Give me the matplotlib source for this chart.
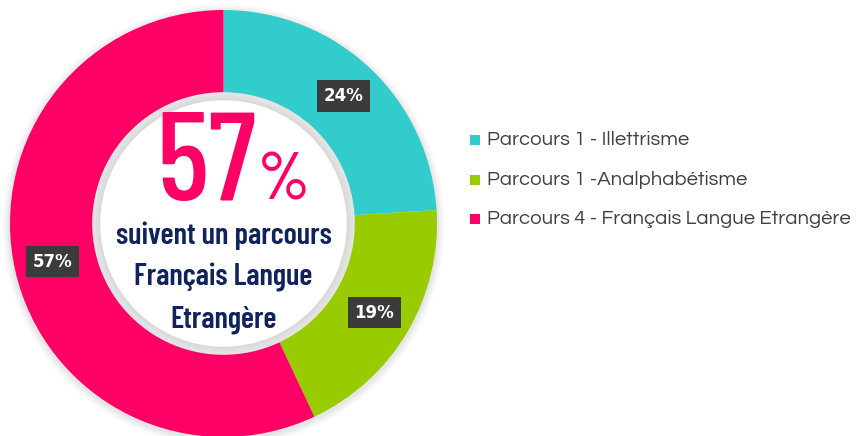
import matplotlib.pyplot as plt
from matplotlib.patches import Circle, Rectangle

# Data
categories = ["Parcours 1 - Illettrisme", "Parcours 1 -Analphabétisme",
              "Parcours 4 - Français Langue Etrangère"]
values = [24, 19, 57]
colors = ["#33CCCC", "#99CC00", "#FF0066"]
center_big = "57"
center_lines = ["suivent un parcours", "Français Langue", "Etrangère"]

W, H = 859, 436
fig = plt.figure(figsize=(W / 100, H / 100), dpi=100)
ax = fig.add_axes([0, 0, 1, 1])
ax.set_xlim(0, W)
ax.set_ylim(0, H)
ax.set_aspect("equal")
ax.axis("off")

cx, cy = 223.5, H - 223.5
R = 213.5
width = 0.385

# soft shadow around the donut
for i, a in enumerate([0.02, 0.03, 0.04, 0.05]):
    ax.add_patch(Circle((cx, cy - 2), R + 8 - 2 * i, color="#555555", alpha=a, lw=0, zorder=0))

wedges, _, autotexts = ax.pie(values, colors=colors, startangle=90, counterclock=False,
                              radius=R, center=(cx, cy), autopct="%d%%", pctdistance=0.82,
                              wedgeprops=dict(width=R * width, linewidth=0),
                              textprops=dict(color="white", fontsize=12, fontweight="bold",
                                             family="DejaVu Sans"))
ax.set_xlim(0, W)
ax.set_ylim(0, H)

for t in autotexts:
    t.set_bbox(dict(boxstyle="square,pad=0.4", facecolor="#3b3b3b", edgecolor="none"))
    t.set_zorder(5)

# inner shadow on the white hole
r_in = R * (1 - width)
for i, a in enumerate([0.03, 0.04, 0.05, 0.05]):
    ax.add_patch(Circle((cx, cy), r_in - 1 - 2 * i, color="#999999", alpha=a, lw=0, zorder=3))
ax.add_patch(Circle((cx, cy), r_in - 8, color="white", lw=0, zorder=3))

# center text
narrow = ["Barlow Condensed", "DejaVu Sans"]
ax.text(257, H - 200, center_big, color="#FF0066", fontsize=90, family=narrow,
        fontweight="medium", ha="right", va="baseline", zorder=6)
ax.text(258, H - 199, "%", color="#FF0066", fontsize=48, family=narrow,
        fontweight="medium", ha="left", va="baseline", zorder=6)
for i, line in enumerate(center_lines):
    ax.text(cx, H - (244 + 42 * i), line, color="#10235e", fontsize=22, fontweight="semibold",
            family=narrow, ha="center", va="baseline", zorder=6)

# legend
ys = [140, 180, 219]
for lab, col, y in zip(categories, colors, ys):
    ax.add_patch(Rectangle((470, H - y - 5), 10, 10, color=col, lw=0))
    ax.text(487, H - y, lab, color="#404040", fontsize=14.6,
            family=["Century Gothic", "Questrial", "DejaVu Sans"], ha="left", va="center")

fig.savefig("out.png", dpi=100)
